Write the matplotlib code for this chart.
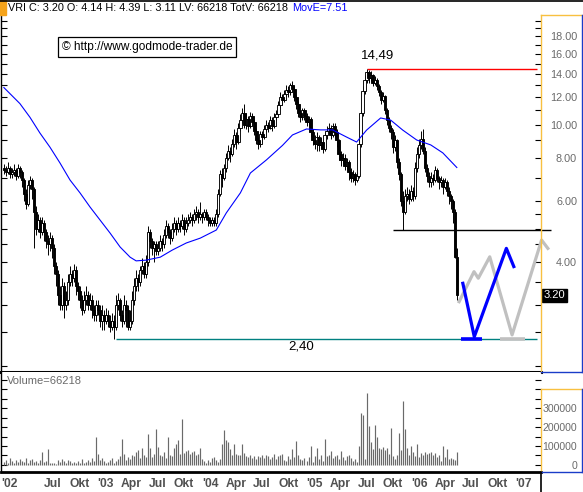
import numpy as np
import pandas as pd
import matplotlib
matplotlib.use('Agg')
import matplotlib.pyplot as plt
from matplotlib.lines import Line2D
from matplotlib.patches import Rectangle
from matplotlib.ticker import FixedLocator, NullFormatter, FuncFormatter

plt.rcParams['font.family'] = ['Liberation Sans', 'DejaVu Sans']

W, H = 583, 492

# weekly candles, VRI, Jan 2002 - May 2006 (open = previous close)
first_open = 7.5
close = [7.4, 7.3, 7.5, 7.2, 7.3, 7.4, 7.1, 7.5, 7.3, 6.9,
         6.3, 5.9, 6.7, 6.9, 6.5, 5.6, 5.0, 5.3, 4.9, 5.2,
         4.9, 4.6, 4.5, 4.7, 4.4, 3.9, 3.7, 3.2, 3.0, 3.4,
         3.0, 3.1, 3.5, 3.7, 3.6, 3.8, 3.4, 3.3, 3.1, 2.9,
         3.1, 3.2, 3.0, 3.1, 2.9, 2.8, 3.0, 2.9, 2.7, 2.8,
         2.7, 2.8, 2.7, 2.6, 2.7, 2.6, 3.0, 3.1, 2.8, 2.7,
         3.0, 2.9, 2.6, 2.7, 3.1, 3.4, 3.6, 3.5, 3.8, 3.9,
         3.7, 4.0, 4.9, 4.6, 4.4, 4.5, 4.3, 4.4, 4.6, 4.5,
         4.8, 5.1, 4.9, 4.7, 5.0, 5.2, 5.0, 5.2, 5.1, 5.3,
         5.0, 5.2, 5.3, 5.4, 5.3, 5.5, 5.6, 5.4, 5.5, 5.4,
         5.6, 5.4, 5.3, 5.2, 5.3, 5.2, 5.5, 6.3, 7.2, 7.0,
         7.5, 8.0, 8.4, 8.2, 8.8, 9.3, 8.9, 9.8, 10.3, 10.8,
         10.0, 10.4, 9.9, 10.6, 10.2, 9.6, 9.0, 8.8, 9.4, 9.2,
         9.7, 10.0, 9.8, 10.3, 9.9, 10.5, 10.7, 11.4, 12.0, 11.8,
         12.3, 12.6, 12.4, 13.0, 12.7, 12.0, 11.5, 10.8, 10.5, 11.0,
         10.6, 10.2, 10.4, 9.5, 9.0, 8.8, 9.2, 8.7, 8.9, 8.5,
         9.3, 9.6, 9.8, 9.3, 9.9, 9.5, 9.0, 8.2, 7.9, 8.0,
         7.6, 7.8, 7.3, 7.0, 7.2, 6.9, 7.1, 8.8, 10.8, 12.5,
         13.5, 14.2, 13.6, 13.9, 13.2, 13.5, 12.9, 12.4, 11.8, 12.1,
         11.0, 10.3, 9.8, 9.5, 8.6, 9.0, 7.8, 7.2, 6.0, 5.6,
         6.2, 6.3, 6.1, 6.4, 6.2, 7.5, 8.2, 8.7, 9.1, 8.4,
         7.5, 7.1, 6.8, 7.0, 6.9, 7.4, 7.0, 6.8, 6.9, 6.6,
         6.8, 6.4, 6.2, 6.0, 5.6, 4.14, 3.20]
high = [7.7, 7.6, 7.8, 7.6, 7.5, 7.7, 7.5, 7.7, 7.6, 7.4,
        7.0, 6.5, 6.9, 7.1, 7.0, 6.6, 5.8, 5.5, 5.4, 5.4,
        5.3, 5.0, 4.8, 4.9, 4.8, 4.5, 4.0, 3.8, 3.4, 3.6,
        3.5, 3.3, 3.7, 3.9, 3.8, 3.95, 3.9, 3.5, 3.4, 3.2,
        3.3, 3.4, 3.3, 3.25, 3.2, 3.0, 3.1, 3.1, 3.0, 3.0,
        2.9, 2.95, 2.9, 2.8, 2.85, 2.8, 3.2, 3.25, 3.15, 2.9,
        3.2, 3.1, 3.0, 2.9, 3.3, 3.6, 3.8, 3.7, 3.9, 4.1,
        4.0, 4.2, 5.1, 5.0, 4.7, 4.6, 4.6, 4.6, 4.8, 4.7,
        5.0, 5.3, 5.2, 5.0, 5.2, 5.4, 5.3, 5.4, 5.3, 5.5,
        5.4, 5.4, 5.5, 5.6, 5.5, 5.7, 5.8, 5.7, 5.95, 5.6,
        5.7, 5.7, 5.5, 5.4, 5.4, 5.4, 5.7, 6.5, 7.4, 7.5,
        7.7, 8.3, 8.7, 8.6, 9.1, 9.7, 9.5, 10.1, 10.7, 11.2,
        11.5, 10.8, 10.6, 10.9, 10.8, 10.3, 9.8, 9.2, 9.6, 9.6,
        10.0, 10.3, 10.2, 10.6, 10.5, 10.8, 11.0, 11.7, 12.4, 12.3,
        12.6, 13.0, 12.9, 13.2, 13.4, 12.9, 12.2, 11.7, 11.0, 11.2,
        11.2, 10.8, 10.6, 10.5, 9.7, 9.3, 9.5, 9.3, 9.2, 9.1,
        9.5, 9.9, 10.1, 10.0, 10.1, 10.1, 9.7, 9.1, 8.4, 8.3,
        8.2, 8.0, 7.9, 7.5, 7.4, 7.3, 7.3, 9.0, 11.0, 12.9,
        13.9, 14.49, 14.4, 14.3, 14.0, 13.8, 13.6, 13.1, 12.6, 12.4,
        12.2, 11.2, 10.5, 10.0, 9.7, 9.3, 9.1, 8.0, 7.3, 6.4,
        6.5, 6.6, 6.5, 6.7, 6.6, 7.8, 8.6, 9.1, 9.6, 9.7,
        8.6, 7.7, 7.3, 7.3, 7.2, 7.6, 7.5, 7.1, 7.1, 7.0,
        7.0, 6.9, 6.6, 6.3, 6.1, 5.7, 4.39]
low = [7.2, 7.1, 7.2, 7.0, 7.0, 7.1, 6.9, 7.0, 7.0, 6.6,
       6.0, 5.7, 5.8, 6.5, 6.1, 4.4, 4.8, 4.9, 4.7, 4.8,
       4.6, 4.4, 4.2, 4.3, 4.1, 3.7, 3.4, 3.0, 2.9, 2.9,
       2.75, 2.9, 3.0, 3.4, 3.4, 3.5, 3.2, 3.1, 2.95, 2.8,
       2.85, 3.0, 2.9, 2.9, 2.75, 2.7, 2.7, 2.8, 2.6, 2.55,
       2.55, 2.65, 2.6, 2.5, 2.55, 2.40, 2.55, 2.9, 2.7, 2.6,
       2.65, 2.6, 2.55, 2.55, 2.65, 3.0, 3.3, 3.3, 3.4, 3.7,
       3.6, 3.6, 3.9, 4.4, 4.2, 4.0, 4.2, 4.2, 4.3, 4.3,
       4.4, 4.7, 4.7, 4.5, 4.6, 4.9, 4.8, 4.9, 4.9, 5.0,
       4.8, 4.9, 5.1, 5.2, 5.1, 5.2, 5.3, 5.2, 5.3, 5.2,
       5.3, 5.3, 5.1, 5.1, 5.1, 5.1, 5.1, 5.4, 6.2, 6.6,
       6.9, 7.3, 7.9, 7.8, 8.1, 8.6, 8.5, 8.8, 9.6, 10.1,
       9.8, 9.7, 9.5, 9.8, 9.9, 9.3, 8.8, 8.5, 8.6, 8.9,
       9.1, 9.5, 9.5, 9.7, 9.6, 9.8, 10.3, 10.6, 11.2, 11.4,
       11.6, 12.1, 12.0, 12.2, 12.4, 11.7, 11.1, 10.5, 10.2, 10.3,
       10.3, 9.9, 9.9, 9.2, 8.7, 8.5, 8.4, 8.4, 8.5, 8.3,
       8.4, 9.1, 9.4, 9.1, 9.2, 9.2, 8.6, 7.9, 7.6, 7.7,
       7.4, 7.4, 6.9, 6.8, 6.8, 6.7, 6.8, 7.0, 8.6, 10.6,
       12.3, 13.2, 13.2, 13.4, 12.9, 13.0, 12.6, 12.1, 11.5, 11.6,
       10.7, 10.0, 9.5, 9.1, 8.3, 8.4, 7.5, 6.9, 5.8, 4.95,
       5.5, 6.0, 5.9, 6.0, 6.0, 6.1, 7.3, 8.0, 8.5, 8.2,
       7.3, 6.8, 6.6, 6.6, 6.7, 6.8, 6.8, 6.5, 6.6, 6.3,
       6.5, 6.2, 5.9, 5.7, 5.2, 4.1, 3.11]
# weekly volume in thousand shares
volume_k = [15, 25, 10, 35, 20, 12, 28, 18, 30, 22,
            15, 35, 12, 25, 30, 18, 22, 10, 28, 68,
            15, 20, 82, 12, 8, 10, 5, 25, 15, 30,
            20, 12, 28, 22, 10, 15, 8, 20, 12, 30,
            10, 18, 25, 15, 35, 22, 147, 60, 28, 35,
            20, 10, 15, 25, 35, 12, 20, 30, 45, 135,
            60, 25, 40, 30, 55, 45, 70, 77, 35, 91,
            50, 40, 165, 91, 40, 60, 188, 95, 55, 45,
            70, 35, 147, 50, 45, 90, 112, 130, 60, 240,
            65, 75, 80, 60, 70, 75, 50, 60, 91, 30,
            20, 12, 25, 15, 35, 40, 25, 18, 30, 109,
            182, 133, 121, 86, 51, 109, 60, 50, 55, 112,
            65, 45, 40, 55, 35, 48, 30, 45, 40, 52,
            35, 55, 48, 30, 40, 58, 32, 45, 55, 60,
            25, 20, 45, 30, 86, 40, 125, 55, 30, 25,
            35, 20, 40, 98, 15, 45, 91, 30, 50, 20,
            139, 45, 50, 72, 35, 45, 55, 30, 72, 40,
            25, 45, 51, 35, 20, 30, 15, 98, 274, 261,
            30, 379, 204, 121, 86, 209, 147, 90, 85, 95,
            80, 88, 60, 195, 45, 33, 50, 168, 77, 337,
            188, 90, 55, 100, 70, 45, 109, 40, 65, 55,
            70, 60, 65, 70, 55, 65, 40, 50, 20, 98,
            40, 82, 30, 35, 33, 28, 66.218]

# moving average (MovE), read at selected weeks
ma_week = [0, 8, 13, 18, 23, 28, 33, 38, 43, 48, 53, 58, 63, 66, 71, 78, 84, 91, 98,
           106, 111, 118, 123, 131, 139, 144, 151, 158, 164, 171, 176, 181, 188, 193,
           199, 206, 213, 219, 226]
ma_value = [12.8, 11.5, 10.5, 9.45, 8.6, 7.74, 6.91, 6.34, 5.77, 5.29, 4.85, 4.42, 4.13,
            4.03, 4.05, 4.13, 4.33, 4.54, 4.69, 4.95, 5.55, 6.34, 7.24, 7.9, 8.7, 9.33,
            9.71, 9.65, 9.65, 9.2, 8.9, 9.64, 10.45, 10.3, 9.64, 9.02, 8.73, 8.28, 7.51]

# drawn scenario lines
blue_dates = ['2006-06-02', '2006-07-12', '2006-11-01', '2006-11-27']
blue_vals = [3.47, 2.43, 4.38, 3.88]
gray_dates = ['2006-05-20', '2006-07-11', '2006-07-26', '2006-09-04', '2006-11-21',
              '2007-03-04', '2007-03-26']
gray_vals = [3.07, 3.75, 3.59, 4.14, 2.46, 4.63, 4.38]
blue_base = ['2006-05-27', '2006-08-07']
gray_base = ['2006-10-09', '2007-01-05']

high_level, high_from, high_to = 14.49, '2005-07-03', '2007-02-15'
low_level, low_from, low_to = 2.40, '2003-02-06', '2007-02-15'
support_level, support_from, support_to = 4.95, '2005-10-01', '2007-04-05'

price_ticks = [4, 6, 8, 10, 12, 14, 16, 18]
price_minor = [2.0, 2.5, 3.0, 3.5, 4.5, 5.0, 5.5, 7, 9, 11, 13, 15, 17, 19, 20]
vol_ticks = [0, 100000, 200000, 300000]

dates = pd.date_range('2002-01-11', periods=len(close), freq='7D')
c = np.array(close)
o = np.array([first_open] + close[:-1])
hi = np.maximum(np.array(high), np.maximum(o, c))
lo = np.minimum(np.array(low), np.minimum(o, c))
vol = np.array(volume_k) * 1000

ORANGE = '#f8c040'
BLUE_EDGE = '#1a3cc8'
GRAY_TXT = '#6a6a6a'


def fx(px):
    return px / W


def fy(py):
    return 1 - py / H


fig = plt.figure(figsize=(W / 100, H / 100), dpi=100)
ax = fig.add_axes([fx(1), fy(372), (541 - 1) / W, (372 - 15) / H])
axv = fig.add_axes([fx(1), fy(472), (541 - 1) / W, (472 - 372) / H], sharex=ax)

# ---- price panel
ax.set_yscale('log')
ax.set_ylim(1.921, 20.76)
ax.set_xlim(pd.Timestamp('2002-01-01'), pd.Timestamp('2007-03-02'))

ax.vlines(dates, lo, hi, color='black', lw=0.7, zorder=3)
up = c >= o
body_lo = np.minimum(o, c)
body_h = np.abs(c - o)
ax.bar(dates[up], body_h[up], bottom=body_lo[up], width=8, color='white',
       edgecolor='black', lw=0.65, zorder=4)
ax.bar(dates[~up], body_h[~up], bottom=body_lo[~up], width=8, color='black',
       edgecolor='black', lw=0.65, zorder=4)

ax.plot(dates[ma_week], ma_value, color='#0000ff', lw=0.8, zorder=5)

ax.hlines(high_level, pd.Timestamp(high_from), pd.Timestamp(high_to), color='#ff0000', lw=1)
ax.hlines(low_level, pd.Timestamp(low_from), pd.Timestamp(low_to), color='#008080', lw=1)
ax.hlines(support_level, pd.Timestamp(support_from), pd.Timestamp(support_to),
          color='black', lw=1, clip_on=False, zorder=6)

ax.plot(pd.to_datetime(gray_dates), gray_vals, color='#c0c0c0', lw=2.3, clip_on=False, zorder=6)
ax.hlines(low_level, pd.Timestamp(gray_base[0]), pd.Timestamp(gray_base[1]),
          color='#c0c0c0', lw=2.6, zorder=6)
ax.plot(pd.to_datetime(blue_dates), blue_vals, color='#0000ff', lw=2.3, zorder=7)
ax.hlines(low_level, pd.Timestamp(blue_base[0]), pd.Timestamp(blue_base[1]),
          color='#0000ff', lw=2.6, zorder=7)

ax.text(pd.Timestamp('2005-08-09'), 15.9, '14,49', ha='center', va='center', fontsize=9.5)
ax.text(pd.Timestamp('2004-11-16'), 2.27, '2,40', ha='center', va='center', fontsize=9.5)
ax.text(1.005, c[-1], '%.2f' % c[-1], transform=ax.get_yaxis_transform(), ha='left',
        va='center', color='white', fontsize=8,
        bbox=dict(boxstyle='square,pad=0.12', fc='black', ec='black'), clip_on=False)

ax.yaxis.set_major_locator(FixedLocator(price_ticks))
ax.yaxis.set_minor_locator(FixedLocator(price_minor))
ax.yaxis.set_major_formatter(FuncFormatter(lambda v, p: '%.2f' % v))
ax.yaxis.set_minor_formatter(NullFormatter())
ax.tick_params(axis='y', which='both', direction='in', left=True, right=True,
               length=4, width=0.8, labelleft=False, labelright=True, pad=26,
               labelsize=7.8, labelcolor=GRAY_TXT)
for t in ax.yaxis.get_major_ticks():
    t.label2.set_horizontalalignment('right')
ax.tick_params(axis='x', which='both', length=0, labelbottom=False)
for s in ['top', 'right']:
    ax.spines[s].set_visible(False)
ax.spines['left'].set_linewidth(1)
ax.spines['bottom'].set_linewidth(2.2)

# ---- volume panel
axv.vlines(dates, 0, vol, color='#6a6a6a', lw=0.85)
axv.set_ylim(-37000, 490000)
axv.yaxis.set_major_locator(FixedLocator(vol_ticks))
axv.yaxis.set_minor_locator(FixedLocator([50000, 150000, 250000, 350000, 400000, 450000]))
axv.yaxis.set_major_formatter(FuncFormatter(lambda v, p: '%d' % v))
axv.tick_params(axis='y', which='both', direction='in', left=True, right=True,
                length=4, width=0.8, labelleft=False, labelright=True, pad=26,
                labelsize=7.6, labelcolor=GRAY_TXT)
for t in axv.yaxis.get_major_ticks():
    t.label2.set_horizontalalignment('right')
for s in ['top', 'right']:
    axv.spines[s].set_visible(False)
axv.spines['left'].set_linewidth(1)
axv.spines['bottom'].set_linewidth(2)

xt = [pd.Timestamp('2002-01-01')] + list(pd.date_range('2002-07-01', '2007-01-01', freq='QS'))
names = {1: None, 4: 'Apr', 7: 'Jul', 10: 'Okt'}
xl = [names[d.month] or "'%02d" % (d.year % 100) for d in xt]
axv.set_xticks(xt)
axv.set_xticklabels(xl)
axv.tick_params(axis='x', length=0, pad=4, labelsize=8.7, labelcolor='#505050')
for lbl in axv.get_xticklabels():
    lbl.set_fontweight('bold')
axv.get_xticklabels()[0].set_horizontalalignment('left')

# ---- frames, header and labels
def fline(x0, y0, x1, y1, color, lw=1.0):
    fig.add_artist(Line2D([fx(x0), fx(x1)], [fy(y0), fy(y1)], color=color, lw=lw,
                          transform=fig.transFigure))

fline(0, 0.5, 583, 0.5, 'black', 1.2)
fline(541, 15, 541, 372, ORANGE)
fline(541, 15, 583, 15, ORANGE)
fline(581.5, 15, 581.5, 372, BLUE_EDGE)
fline(541, 371.5, 583, 371.5, BLUE_EDGE)
fline(541, 389, 583, 389, ORANGE)
fline(541, 389, 541, 472, ORANGE)
fline(581.5, 389, 581.5, 472, BLUE_EDGE)
fline(541, 471.5, 583, 471.5, BLUE_EDGE)
fline(541, 472, 541, 492, 'black', 1.2)
fig.add_artist(Rectangle((0, fy(15)), fx(6), 15 / H, color='#f5a31a',
                         transform=fig.transFigure))

header = 'VRI C: %.2f O: %.2f H: %.2f L: %.2f LV: %d TotV: %d' % (
    c[-1], o[-1], hi[-1], lo[-1], vol[-1], vol[-1])
head_txt = fig.text(fx(8), fy(8), header, va='center', ha='left', fontsize=7.8, color='black')
fig.text(0, 0, '', alpha=0)
ax.annotate('MovE=%.2f' % ma_value[-1], xy=(1, 0.5), xycoords=head_txt,
            xytext=(3, 0), textcoords='offset points', va='center', ha='left',
            fontsize=7.8, color='#0000ff', annotation_clip=False)
fig.text(fx(147), fy(47), '\u00a9 http://www.godmode-trader.de', ha='center', va='center',
         fontsize=8.6, bbox=dict(boxstyle='square,pad=0.35', fc='white', ec='black', lw=0.9))
fig.text(fx(7), fy(381), 'Volume=%d' % vol[-1], va='center', ha='left', fontsize=8,
         color=GRAY_TXT)

fig.savefig('out.png', dpi=100)
